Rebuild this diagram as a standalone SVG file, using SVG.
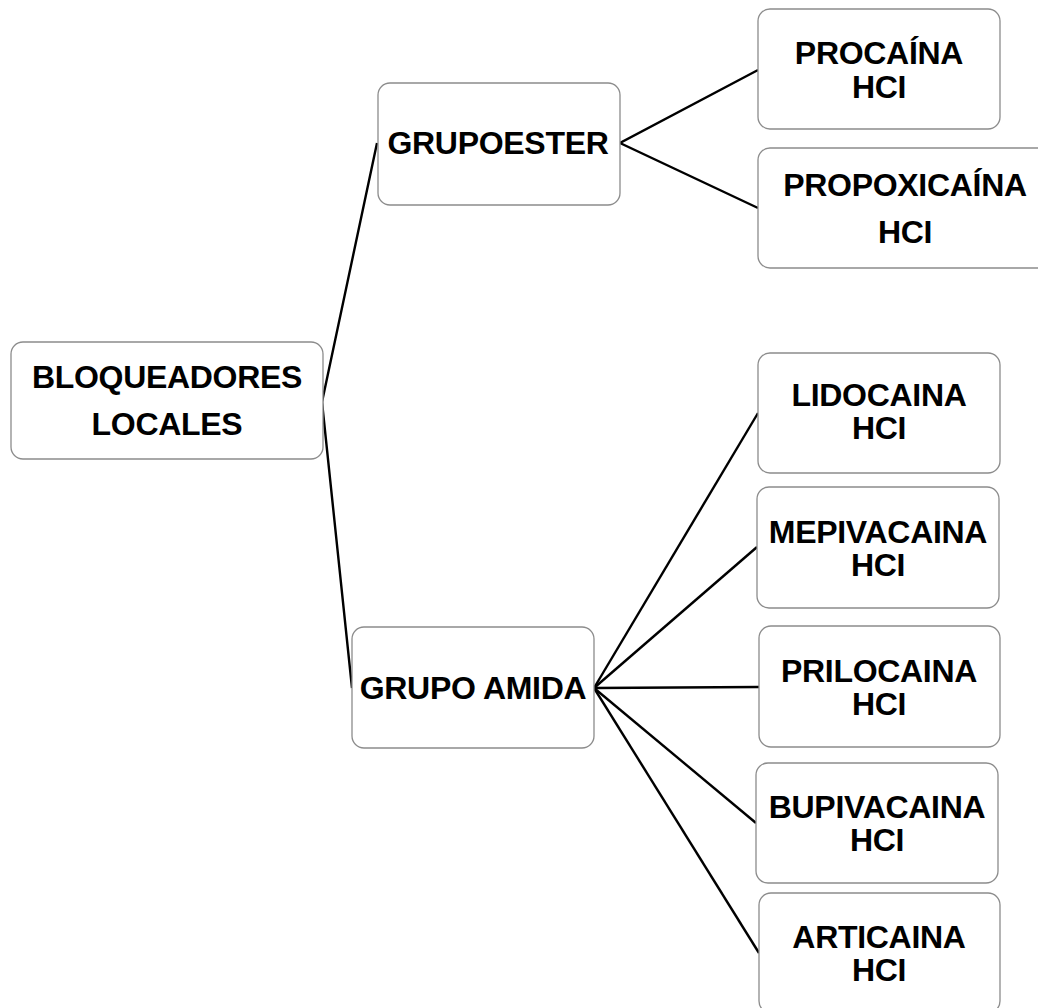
<svg xmlns="http://www.w3.org/2000/svg" width="1038" height="1008" viewBox="0 0 1038 1008">
<style>
.box{fill:#fff;stroke:#8c8c8c;stroke-width:1.3}
.t{font-family:"Liberation Sans",Arial,sans-serif;font-weight:bold;font-size:32px;letter-spacing:-0.3px;fill:#000;text-anchor:middle}
.c{stroke:#000;stroke-width:2.4;fill:none}
</style>
<rect width="1038" height="1008" fill="#fff"/>
<g id="connectors">
<polyline class="c" points="377,143 322,402 352,688"/>
<polyline class="c" points="758,70 620,143 758,208"/>
<line class="c" x1="594" y1="688" x2="758" y2="413"/>
<line class="c" x1="594" y1="688" x2="757" y2="547"/>
<line class="c" x1="594" y1="688" x2="759" y2="687"/>
<line class="c" x1="594" y1="688" x2="756" y2="823"/>
<line class="c" x1="594" y1="688" x2="759" y2="953"/>
</g>
<g id="root">
<rect class="box" x="11" y="342" width="312" height="117" rx="12"/>
<text class="t" x="167" y="388">BLOQUEADORES</text>
<text class="t" x="167" y="435">LOCALES</text>
</g>
<g id="grupoester">
<rect class="box" x="378" y="83" width="242" height="122" rx="12"/>
<text class="t" x="498" y="154">GRUPOESTER</text>
</g>
<g id="grupoamida">
<rect class="box" x="352" y="627" width="242" height="121" rx="12"/>
<text class="t" x="473" y="699">GRUPO AMIDA</text>
</g>
<g id="procaina">
<rect class="box" x="758" y="9" width="242" height="120" rx="12"/>
<text class="t" x="879" y="64">PROCAÍNA</text>
<text class="t" x="879" y="98">HCI</text>
</g>
<g id="propoxicaina">
<rect class="box" x="758" y="148" width="294" height="120" rx="12"/>
<text class="t" x="905" y="196">PROPOXICAÍNA</text>
<text class="t" x="905" y="243">HCI</text>
</g>
<g id="lidocaina">
<rect class="box" x="758" y="353" width="242" height="120" rx="12"/>
<text class="t" x="879" y="406">LIDOCAINA</text>
<text class="t" x="879" y="439">HCI</text>
</g>
<g id="mepivacaina">
<rect class="box" x="757" y="487" width="242" height="121" rx="12"/>
<text class="t" x="878" y="543">MEPIVACAINA</text>
<text class="t" x="878" y="576">HCI</text>
</g>
<g id="prilocaina">
<rect class="box" x="759" y="626" width="241" height="121" rx="12"/>
<text class="t" x="879" y="682">PRILOCAINA</text>
<text class="t" x="879" y="715">HCI</text>
</g>
<g id="bupivacaina">
<rect class="box" x="756" y="763" width="242" height="120" rx="12"/>
<text class="t" x="877" y="818">BUPIVACAINA</text>
<text class="t" x="877" y="851">HCI</text>
</g>
<g id="articaina">
<rect class="box" x="759" y="893" width="241" height="120" rx="12"/>
<text class="t" x="879" y="948">ARTICAINA</text>
<text class="t" x="879" y="981">HCI</text>
</g>
</svg>
